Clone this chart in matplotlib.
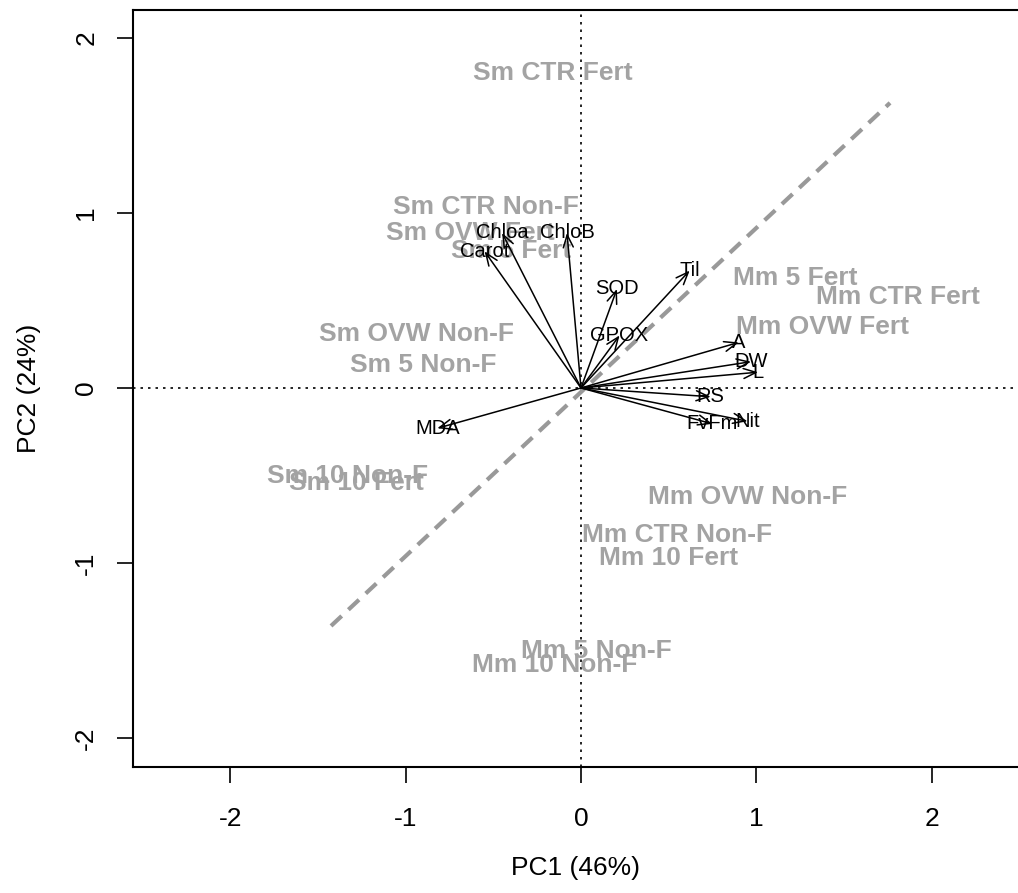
import matplotlib
matplotlib.use("Agg")
import matplotlib.pyplot as plt

plt.rcParams['font.family'] = ['Liberation Sans', 'DejaVu Sans']

# sample scores (PC1, PC2)
samples = ["Sm CTR Fert", "Sm CTR Non-F", "Sm OVW Fert", "Sm 5 Fert",
           "Sm OVW Non-F", "Sm 5 Non-F", "Sm 10 Non-F", "Sm 10 Fert",
           "Mm 5 Fert", "Mm CTR Fert", "Mm OVW Fert", "Mm OVW Non-F",
           "Mm CTR Non-F", "Mm 10 Fert", "Mm 5 Non-F", "Mm 10 Non-F"]
samp_pc1 = [-0.16, -0.54, -0.63, -0.40, -0.94, -0.90, -1.33, -1.28,
            1.22, 1.81, 1.38, 0.95, 0.55, 0.50, 0.09, -0.15]
samp_pc2 = [1.80, 1.03, 0.885, 0.78, 0.31, 0.13, -0.50, -0.54,
            0.63, 0.52, 0.35, -0.62, -0.84, -0.97, -1.50, -1.58]

# variable loadings (arrow tips)
variables = ["Chloa", "ChloB", "Carot", "SOD", "GPOX", "Til",
             "A", "DW", "L", "RS", "Nit", "FvFm", "MDA"]
var_pc1 = [-0.45, -0.08, -0.55, 0.205, 0.22, 0.62,
           0.90, 0.97, 1.01, 0.74, 0.95, 0.75, -0.82]
var_pc2 = [0.885, 0.885, 0.78, 0.565, 0.30, 0.67,
           0.26, 0.15, 0.09, -0.05, -0.19, -0.205, -0.23]

# dashed separation line end points
sep_x = [-1.426, 1.763]
sep_y = [-1.358, 1.627]

fig = plt.figure(figsize=(10.18, 8.93), dpi=100)
ax = fig.add_axes([0.1306, 0.1411, 0.8694, 0.8477])
ax.set_xlim(-2.556, 2.493)
ax.set_ylim(-2.163, 2.157)

ax.axhline(0, color='black', lw=1.2, ls=(0, (1.5, 3)))
ax.axvline(0, color='black', lw=1.2, ls=(0, (1.5, 3)))

ax.plot(sep_x, sep_y, color='#999999', lw=3, ls=(0, (3.5, 2.2)))

for name, x, y in zip(samples, samp_pc1, samp_pc2):
    ax.text(x, y, name, color='#a3a3a3', fontsize=19, fontweight='bold',
            ha='center', va='center')

for name, x, y in zip(variables, var_pc1, var_pc2):
    ax.annotate('', xy=(x, y), xytext=(0, 0),
                arrowprops=dict(arrowstyle='->,head_length=0.45,head_width=0.18',
                                color='black', lw=1.1, mutation_scale=20,
                                shrinkA=0, shrinkB=0))
    ax.text(x, y, name, color='black', fontsize=14.5, ha='center', va='center')

ax.set_xticks([-2, -1, 0, 1, 2])
ax.set_yticks([-2, -1, 0, 1, 2])
ax.set_xticklabels(['-2', '-1', '0', '1', '2'])
ax.set_yticklabels(['-2', '-1', '0', '1', '2'], rotation=90, va='center')
ax.tick_params(axis='both', direction='out', length=11.5, width=1.2,
               labelsize=19)
ax.tick_params(axis='x', pad=17)
ax.tick_params(axis='y', pad=13.5)
ax.set_xlabel('PC1 (46%)', fontsize=19, labelpad=18)
ax.set_ylabel('PC2 (24%)', fontsize=19, labelpad=24)

for s in ['left', 'bottom', 'top']:
    ax.spines[s].set_linewidth(1.5)
ax.spines['right'].set_visible(False)

fig.savefig('out.png', dpi=100)
